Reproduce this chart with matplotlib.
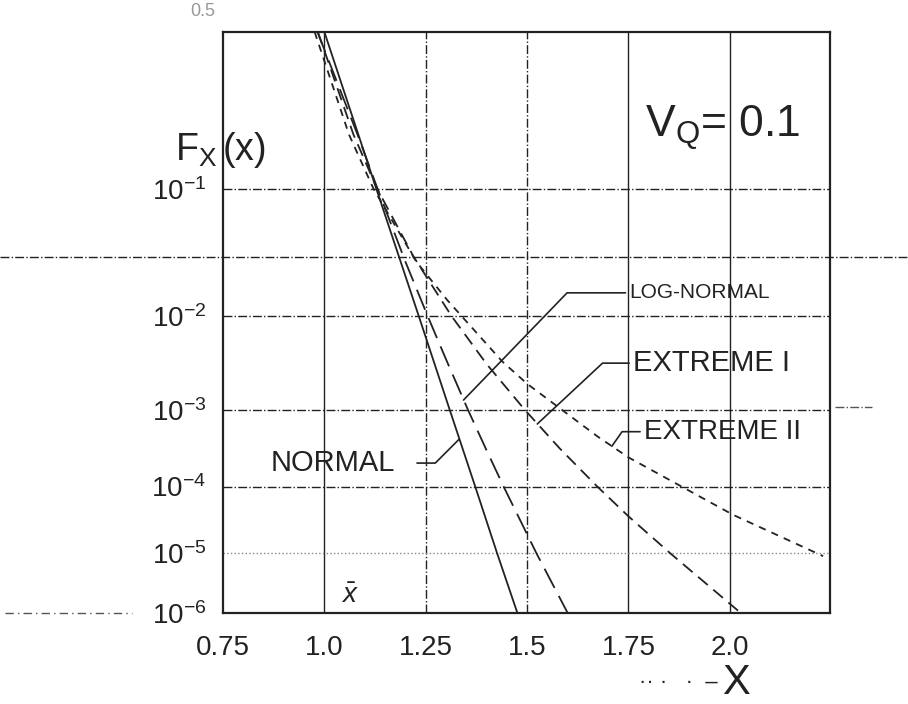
import numpy as np
import matplotlib
matplotlib.use('Agg')
import matplotlib.pyplot as plt
from matplotlib.lines import Line2D
from statistics import NormalDist

# exceedance probability P(X > x), V_Q = 0.1
normal_x = [1.0, 1.084, 1.128, 1.233, 1.309, 1.372, 1.426, 1.476]
normal_p = [0.5, 0.2, 0.1, 1e-2, 1e-3, 1e-4, 1e-5, 1e-6]

lognormal_x = [0.983, 1.082, 1.131, 1.200, 1.255, 1.300, 1.354, 1.400, 1.442, 1.523, 1.600]
lognormal_p = [0.5, 0.2, 0.1, 3.0e-2, 1e-2, 3.7e-3, 1e-3, 3.1e-4, 1e-4, 1e-5, 1e-6]

ext1_x = [0.984, 1.072, 1.130, 1.220, 1.314, 1.400, 1.494, 1.580, 1.673, 1.750, 1.853, 2.020]
ext1_p = [0.5, 0.2, 0.1, 3.3e-2, 1e-2, 3.3e-3, 1e-3, 3.3e-4, 1e-4, 3.7e-5, 1e-5, 1.1e-6]

ext2_x = [0.976, 1.061, 1.121, 1.227, 1.304, 1.439, 1.500, 1.673, 1.750, 2.008, 2.230]
ext2_p = [0.5, 0.2, 0.1, 3.0e-2, 1.4e-2, 3.5e-3, 2.0e-3, 4.7e-4, 2.5e-4, 3.9e-5, 9e-6]

x_ticks = [0.75, 1.0, 1.25, 1.5, 1.75, 2.0]
x_labels = ['0.75', '1.0', '1.25', '1.5', '1.75', '2.0']
y_ticks = [1e-1, 1e-2, 1e-3, 1e-4, 1e-5, 1e-6]
y_labels = [r'$10^{-1}$', r'$10^{-2}$', r'$10^{-3}$', r'$10^{-4}$', r'$10^{-5}$', r'$10^{-6}$']

ink = '#222222'
plt.rcParams['font.family'] = ['Liberation Sans', 'DejaVu Sans']
plt.rcParams['mathtext.fontset'] = 'custom'
plt.rcParams['mathtext.rm'] = 'Liberation Sans'
plt.rcParams['mathtext.it'] = 'Liberation Sans:italic'

_nd = NormalDist()


def prob_fwd(p):
    # normal probability paper: tail prob -> standard normal quantile
    p = np.clip(np.asarray(p, dtype=float), 1e-12, 1 - 1e-12)
    return np.vectorize(_nd.inv_cdf, otypes=[float])(p)


def prob_inv(z):
    z = np.asarray(z, dtype=float)
    return np.vectorize(_nd.cdf, otypes=[float])(z)


def on_curve(xs, ps, p):
    return np.interp(-np.log10(p), -np.log10(ps), xs)


fig = plt.figure(figsize=(9.08, 7.04), dpi=100)
ax = fig.add_axes([0.2456, 0.1293, 0.6685, 0.8253])
ax.set_yscale('function', functions=(prob_fwd, prob_inv))
ax.set_xlim(0.75, 2.247)
ax.set_ylim(1e-6, 0.5)

# grid drawn by hand, the original mixes solid and dash-dot rules
for xv, ls in zip(x_ticks[1:], ['-', '-.', '-.', '-', '-']):
    ax.axvline(xv, color=ink, lw=1.0, ls=ls, zorder=1)
for yv, ls in zip(y_ticks[:-1], ['-.', '-.', '-.', '-.', ':']):
    ax.axhline(yv, color=ink if ls != ':' else '#888888', lw=1.0, ls=ls, zorder=1)

ax.plot(normal_x, normal_p, color=ink, lw=1.3, ls='-')
ax.plot(lognormal_x, lognormal_p, color=ink, lw=1.3, ls=(0, (12, 5)))
ax.plot(ext1_x, ext1_p, color=ink, lw=1.3, ls=(0, (7, 4)))
ax.plot(ext2_x, ext2_p, color=ink, lw=1.3, ls=(0, (4, 3.5)))

ax.set_xticks(x_ticks)
ax.set_xticklabels(x_labels, fontsize=20, color=ink)
ax.set_yticks(y_ticks)
ax.set_yticklabels(y_labels, fontsize=20, color=ink)
ax.yaxis.set_minor_locator(matplotlib.ticker.NullLocator())
ax.tick_params(axis='x', length=0, pad=16)
ax.tick_params(axis='y', length=0, pad=12)
for s in ax.spines.values():
    s.set_linewidth(1.6)
    s.set_color(ink)

ax.text(-0.012, 1.035, '0.5', transform=ax.transAxes, ha='right', va='center',
        fontsize=13, color='#999999')
ax.text(0.195, 0.03, r'$\bar{x}$', transform=ax.transAxes, ha='left', va='center',
        fontsize=20, color=ink)

# curve labels with leader lines
lead = dict(arrowstyle='-', color=ink, lw=1.2, shrinkA=1, shrinkB=0)
p0 = 1.3e-3
ax.annotate('LOG-NORMAL', xy=(on_curve(lognormal_x, lognormal_p, p0), p0),
            xytext=(0.670, 0.551), textcoords='axes fraction', ha='left', va='center',
            fontsize=15, color=ink,
            arrowprops=dict(lead, relpos=(0, 0.5), connectionstyle='angle,angleA=0,angleB=46,rad=0'))
p1 = 6.7e-4
ax.annotate('EXTREME I', xy=(on_curve(ext1_x, ext1_p, p1), p1),
            xytext=(0.676, 0.430), textcoords='axes fraction', ha='left', va='center',
            fontsize=21, color=ink,
            arrowprops=dict(lead, relpos=(0, 0.5), connectionstyle='angle,angleA=0,angleB=43,rad=0'))
p2 = 3.5e-4
ax.annotate('EXTREME II', xy=(on_curve(ext2_x, ext2_p, p2), p2),
            xytext=(0.694, 0.312), textcoords='axes fraction', ha='left', va='center',
            fontsize=20, color=ink,
            arrowprops=dict(lead, relpos=(0, 0.5), connectionstyle='angle,angleA=0,angleB=55,rad=0'))
p3 = 4.3e-4
ax.annotate('NORMAL', xy=(on_curve(normal_x, normal_p, p3), p3),
            xytext=(0.283, 0.258), textcoords='axes fraction', ha='right', va='center',
            fontsize=21, color=ink,
            arrowprops=dict(lead, relpos=(1, 0.5), shrinkA=14,
                            connectionstyle='angle,angleA=0,angleB=45,rad=0'))

ax.text(0.695, 0.835, r'$\mathrm{V_Q}$= 0.1', transform=ax.transAxes, ha='left', va='center',
        fontsize=32, color=ink)

fig.text(0.243, 0.787, r'$\mathrm{F_X\,(x)}$', ha='center', va='center', fontsize=27, color=ink)
fig.text(0.79, 0.03, '·· ·   ·  –', ha='right', va='center', fontsize=16, color=ink)
fig.text(0.81, 0.03, 'X', ha='center', va='center', fontsize=30, color=ink)

# stray rules of the original sheet running past the frame
fig.add_artist(Line2D([0.0, 1.0], [0.635, 0.635], transform=fig.transFigure,
                      color=ink, lw=1.0, ls='-.'))
fig.add_artist(Line2D([0.005, 0.145], [0.129, 0.129], transform=fig.transFigure,
                      color='#555555', lw=1.0, ls=(0, (6, 3, 1, 3))))
fig.add_artist(Line2D([0.92, 0.96], [0.422, 0.422], transform=fig.transFigure,
                      color='#555555', lw=1.0, ls='-.'))

fig.savefig('out.png', dpi=100)
